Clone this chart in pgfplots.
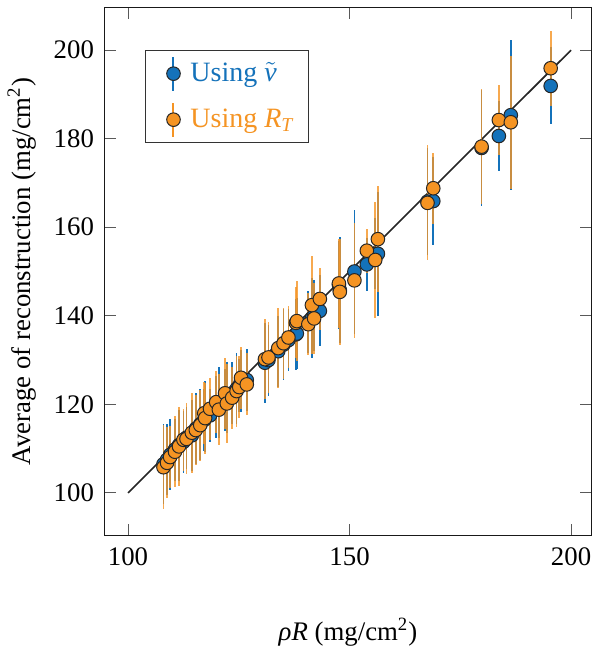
\documentclass[border=0pt]{standalone}
\usepackage{pgfplots}
\pgfplotsset{compat=1.18}
\usepackage{pgfplotstable}
\usepackage{fontspec}
\setmainfont{Liberation Serif}
\definecolor{mblue}{RGB}{20,114,186}
\definecolor{morange}{RGB}{245,148,35}
\pgfplotstableread{
x yb eb yo eo
108.0 106.5 9 105.8 9.5
108.8 107.5 8 106.8 8
109.5 108.6 8 108.1 7
110.6 109.8 7 109.3 8
111.5 110.8 8 110.5 9
112.5 111.5 7 112.0 7
113.2 112.5 7 112.2 8
114.4 113.0 8 113.6 9
115.3 114.5 8 114.2 8
116.3 115.5 8 115.3 8
117.2 116.5 7 118.0 7
117.4 117.2 8 116.9 8
118.5 117.5 6 119.0 7
119.9 119.5 7 120.5 7
120.5 120.5 8 118.8 8
121.9 121.0 7 122.5 8
122.3 121.5 8 120.2 9
123.5 122.5 7 121.5 7
124.5 123.5 8 123.0 8
125.1 124.2 6 123.9 7
125.5 125.3 7 126.0 7
126.8 125.5 7 124.5 7
130.9 129.4 9 130.2 9
131.7 130.0 8 130.6 8
133.9 132.0 8 132.7 9
135.1 133.5 8 133.8 8
136.2 134.5 7 135.1 7
137.9 135.8 8 138.4 8
138.1 136.0 8 138.8 9
140.7 138.6 7 138.1 7
141.5 139.5 9 142.4 11
142.0 140.0 8 139.4 8
143.3 141.1 8 143.8 7
147.6 147.0 10 147.3 10
147.8 145.8 12 145.4 12
151.1 150.0 14 148.0 13
153.9 151.6 6 154.7 5
155.8 154.0 8 152.6 13
156.4 154.0 14 157.3 12
167.6 165.8 12 165.5 13
168.9 165.9 10 168.8 8
179.8 177.9 13 178.2 13
183.7 180.6 8 184.2 8
186.4 185.3 17 183.7 15
195.4 191.9 8.7 195.9 8.5
}\data
\begin{document}
\begin{tikzpicture}[font=\fontsize{13.4}{16}\selectfont]
\begin{axis}[
  width=243pt, height=263.5pt, scale only axis,
  xmin=94.8, xmax=204.5, ymin=90.5, ymax=209.5,
  xtick={100,150,200}, ytick={100,120,140,160,180,200},
  tick align=inside, major tick length=5.5pt,
  tick style={black!65, line width=0.5pt},
  axis line style={black!90, line width=0.5pt},
  /pgf/number format/assume math mode=true,
  yticklabel style={xshift=-2pt},
  xticklabel style={yshift=-3pt},
  xlabel={\textit{ρR} (mg/cm\textsuperscript{2})},
  ylabel={Average of reconstruction (mg/cm\textsuperscript{2})},
  xlabel style={yshift=-19pt},
  ylabel style={yshift=2pt},
  legend style={at={(rel axis cs:0.0823,0.92)}, anchor=north west,
    draw=black!80, line width=0.5pt, row sep=5pt, inner xsep=5pt, inner ysep=2.5pt,
    legend cell align=left, font=\fontsize{14}{16.5}\selectfont},
]
\addplot[black!85, line width=0.8pt, forget plot] coordinates {(100,100) (200,200)};
\addplot[only marks, mark=none, forget plot,
  error bars/.cd, y dir=both, y explicit, error mark=none,
  error bar style={draw=mblue, line width=0.85pt}]
  table[x=x, y=yb, y error=eb] {\data};
\addplot[only marks, mark=none, forget plot,
  error bars/.cd, y dir=both, y explicit, error mark=none,
  error bar style={draw=morange, line width=0.85pt, opacity=0.8}]
  table[x=x, y=yo, y error=eo] {\data};
\addplot[only marks, mark=*, mark size=3.4pt, forget plot,
  mark options={fill=mblue, draw=black!85, line width=0.5pt}]
  table[x=x, y=yb] {\data};
\addplot[only marks, mark=*, mark size=3.4pt, forget plot,
  mark options={fill=morange, draw=black!85, line width=0.5pt}]
  table[x=x, y=yo] {\data};
\addlegendimage{legend image code/.code={
  \path[draw=none, fill=none] (0pt,0pt) -- (15.5pt,0pt);
  \draw[draw=mblue, line width=1pt, opacity=1] (9pt,-8.5pt) -- (9pt,8.5pt);
  \filldraw[fill=mblue, draw=black!85, line width=0.5pt] (9pt,0pt) circle (3.4pt);}}
\addlegendentry{\textcolor{mblue}{Using $\tilde{\mbox{\textit{v}}}$}}
\addlegendimage{legend image code/.code={
  \path[draw=none, fill=none] (0pt,0pt) -- (15.5pt,0pt);
  \draw[draw=morange, line width=1pt, opacity=1] (9pt,-8.5pt) -- (9pt,8.5pt);
  \filldraw[fill=morange, draw=black!85, line width=0.5pt] (9pt,0pt) circle (3.4pt);}}
\addlegendentry{\textcolor{morange}{Using \textit{R}\textsubscript{\textit{T}}}}
\end{axis}
\pgfresetboundingbox
\path ([xshift=-52.5pt,yshift=-57pt]current axis.south west) rectangle ([xshift=0.5pt,yshift=4pt]current axis.north east);
\end{tikzpicture}
\end{document}
